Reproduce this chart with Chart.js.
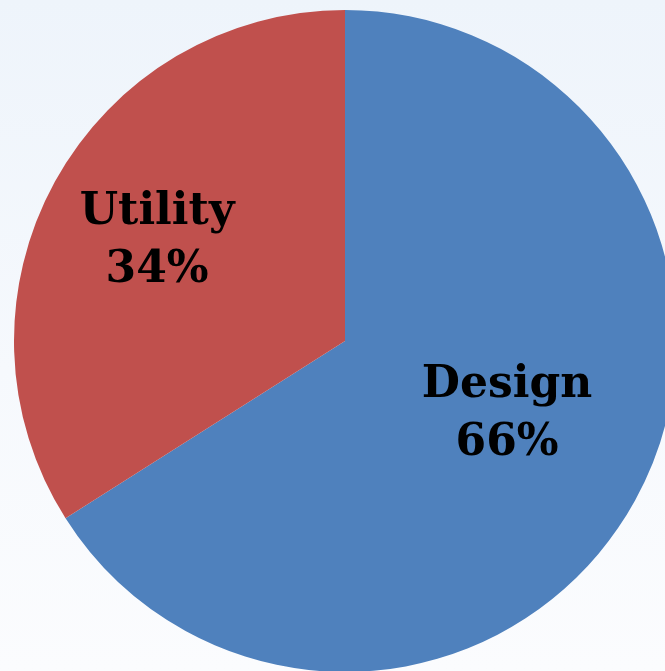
<!DOCTYPE html>
<html>
<head>
<meta charset="utf-8">
<script src="https://cdn.jsdelivr.net/npm/chart.js@4/dist/chart.umd.min.js"></script>
<style>
  html, body {
    margin: 0;
    padding: 0;
    width: 665px;
    height: 671px;
    overflow: hidden;
    background: linear-gradient(180deg, #eef4fb 0%, #f6f9fd 55%, #fbfcfe 100%);
  }
  #wrap {
    position: absolute;
    left: 0;
    top: 0;
    width: 690px;
    height: 682px;
  }
</style>
</head>
<body>
<div id="wrap"><canvas id="pieChart"></canvas></div>
<script>
// Chart data
const categories = ["Design", "Utility"];
const shares = [66, 34];
const sliceColors = ["#4F81BD", "#C0504D"];

// draws "Name / NN%" inside each slice
const sliceLabels = {
  id: "sliceLabels",
  afterDatasetsDraw(chart, args, opts) {
    const ctx = chart.ctx;
    const meta = chart.getDatasetMeta(0);
    ctx.save();
    ctx.fillStyle = "#000";
    ctx.font = opts.font;
    ctx.textAlign = "center";
    ctx.textBaseline = "middle";
    meta.data.forEach(function (arc, i) {
      const mid = (arc.startAngle + arc.endAngle) / 2 + opts.shifts[i] * Math.PI / 180;
      const r = arc.outerRadius * opts.offsets[i];
      const x = arc.x + Math.cos(mid) * r;
      const y = arc.y + Math.sin(mid) * r;
      const value = chart.data.datasets[0].data[i];
      ctx.fillText(chart.data.labels[i], x, y - opts.lineGap / 2);
      ctx.fillText(value + "%", x, y + opts.lineGap / 2);
    });
    ctx.restore();
  },
};

document.addEventListener("DOMContentLoaded", function () {
  const ctx = document.getElementById("pieChart").getContext("2d");
  new Chart(ctx, {
    type: "pie",
    data: {
      labels: categories,
      datasets: [
        {
          data: shares,
          backgroundColor: sliceColors,
          borderWidth: 0,
        },
      ],
    },
    options: {
      responsive: true,
      maintainAspectRatio: false,
      animation: false,
      radius: 331,
      plugins: {
        legend: { display: false },
        tooltip: { enabled: false },
        sliceLabels: {
          font: "bold 44px 'DejaVu Serif'",
          offsets: [0.538, 0.643],
          shifts: [-4.3, -0.8],
          lineGap: 58,
        },
      },
    },
    plugins: [sliceLabels],
  });
});
</script>
</body>
</html>
